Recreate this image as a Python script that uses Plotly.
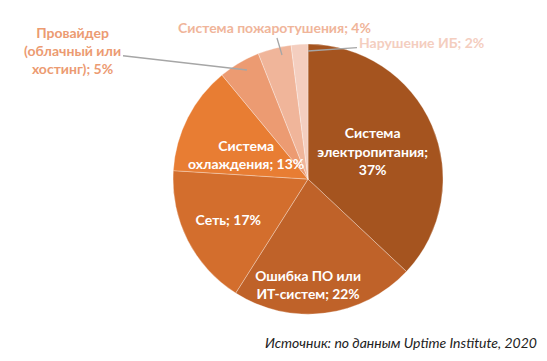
import plotly.graph_objects as go

categories = ["Система электропитания", "Ошибка ПО или ИТ-систем", "Сеть",
              "Система охлаждения", "Провайдер (облачный или хостинг)",
              "Система пожаротушения", "Нарушение ИБ"]
values = [37, 22, 17, 13, 5, 4, 2]
label_text = ["Система<br>электропитания;<br>37%", "Ошибка ПО или<br>ИТ-систем; 22%", "Сеть; 17%",
              "Система<br>охлаждения; 13%", "Провайдер<br>(облачный или<br>хостинг); 5%",
              "Система пожаротушения; 4%", "Нарушение ИБ; 2%"]
colors = ["#A5541F", "#BF6229", "#D36E2D", "#E87D33", "#EC9B72", "#F0B59A", "#F4CEBF"]

FONT = "Lato"
pie_text = [f"<b>{t}</b>" if i < 3 else "" for i, t in enumerate(label_text)]

fig = go.Figure(go.Pie(
    labels=categories,
    values=values,
    text=pie_text,
    textinfo="text",
    textposition="inside",
    insidetextorientation="horizontal",
    sort=False,
    direction="clockwise",
    rotation=0,
    marker=dict(colors=colors, line=dict(color="rgba(255,255,255,0.5)", width=0.6)),
    insidetextfont=dict(family=FONT, size=14, color="white"),
    domain=dict(x=[0.293, 0.804], y=[0.152, 0.900]),
    showlegend=False,
    hoverinfo="label+percent",
))

W, H = 547, 361
def px(x, y):
    return x / W, 1 - y / H

# inside label for the cooling slice
x, y = px(238, 146)
fig.add_annotation(text=f"<b>{label_text[3]}</b>", x=x, y=y, xref="paper", yref="paper",
                   showarrow=False, font=dict(family=FONT, size=14, color="white"))

# outside labels with leader lines
outside = [
    (4, (239, 62), (-174, -20)),
    (5, (274, 47), (-8, -27)),
    (6, (300, 43), (113, -8)),
]
for i, (ex, ey), (ax, ay) in outside:
    x, y = px(ex, ey)
    fig.add_annotation(text=f"<b>{label_text[i]}</b>", x=x, y=y, xref="paper", yref="paper",
                       ax=ax, ay=ay, showarrow=True, arrowhead=0, arrowwidth=1.3,
                       arrowcolor="#A6A6A6", standoff=0,
                       font=dict(family=FONT, size=14, color=colors[i]))

fig.add_annotation(text="<i>Источник: по данным Uptime Institute, 2020</i>",
                   x=0.97, y=0.045, xref="paper", yref="paper", xanchor="right", yanchor="bottom",
                   showarrow=False, font=dict(family=FONT, size=14, color="#222222"))

fig.update_layout(width=W, height=H, margin=dict(l=0, r=0, t=0, b=0),
                  paper_bgcolor="white", plot_bgcolor="white",
                  font=dict(family=FONT))

fig.write_html("out.html")
